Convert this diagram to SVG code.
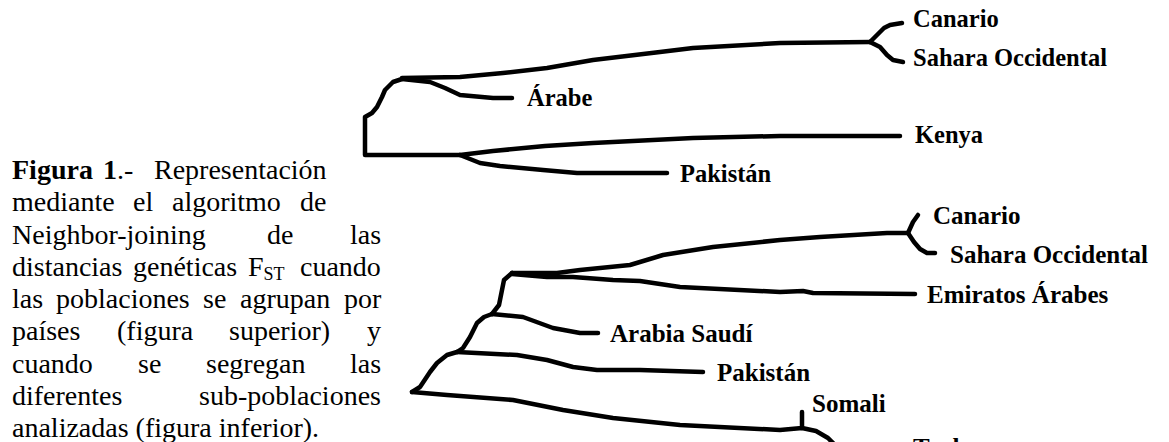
<svg xmlns="http://www.w3.org/2000/svg" width="1169" height="442" viewBox="0 0 1169 442">
<style>
.cap{font-family:"Liberation Serif","Times New Roman",serif;font-size:28px;fill:#000}
.b{font-weight:bold}
.lbl{font-family:"Liberation Serif","Times New Roman",serif;font-size:25px;font-weight:bold;fill:#000}
.lbl2{font-size:24.5px}
.br{fill:none;stroke:#000;stroke-width:4.5;stroke-linecap:round;stroke-linejoin:round}
</style>
<rect width="1169" height="442" fill="#fff"/>
<g id="caption" class="cap">
<text y="179"><tspan x="12" class="b">Figura</tspan><tspan x="103" class="b">1</tspan><tspan>.-</tspan><tspan x="154">Representación</tspan></text>
<text y="211"><tspan x="12">mediante</tspan><tspan x="133">el</tspan><tspan x="172">algoritmo</tspan><tspan x="300">de</tspan></text>
<text y="244"><tspan x="12">Neighbor-joining</tspan><tspan x="267">de</tspan><tspan x="350">las</tspan></text>
<text y="276"><tspan x="12">distancias</tspan><tspan x="133">genéticas</tspan><tspan x="248">F</tspan><tspan font-size="18" dy="4">ST</tspan><tspan x="300" dy="-4">cuando</tspan></text>
<text y="308"><tspan x="12">las</tspan><tspan x="56">poblaciones</tspan><tspan x="203">se</tspan><tspan x="240">agrupan</tspan><tspan x="344">por</tspan></text>
<text y="340"><tspan x="12">países</tspan><tspan x="117">(figura</tspan><tspan x="229">superior)</tspan><tspan x="367">y</tspan></text>
<text y="373"><tspan x="12">cuando</tspan><tspan x="138">se</tspan><tspan x="206">segregan</tspan><tspan x="350">las</tspan></text>
<text y="405"><tspan x="12">diferentes</tspan><tspan x="199">sub-poblaciones</tspan></text>
<text y="437" x="12">analizadas (figura inferior).</text>
</g>
<g id="connectors" class="br">
<!-- top tree -->
<path d="M402,79 L393,82 L385,90 L382,97 L377,107 L372,113 L365,117 L365,155 L460,155"/>
<path d="M460,155 L493,151 L545,146 L593,143 L693,138 L780,136 L853,136 L900,136"/>
<path d="M460,155 L480,163 L500,166 L543,170 L577,173 L667,173"/>
<path d="M402,79 L430,82 L445,88 L460,95 L493,98 L512,98"/>
<path d="M402,78 L460,77 L503,73 L547,68 L593,60 L660,52 L693,48 L780,43 L870,42"/>
<path d="M870,42 L877,35 L884,28 L890,25 L902,23"/>
<path d="M870,42 L880,47 L887,55 L893,60 L903,62"/>
<!-- bottom tree -->
<path d="M412,392 L447,395 L513,400 L563,410 L613,418 L680,425 L780,430 L802,428 L816,431 L828,438 L840,450"/>
<path d="M802,428 L802,412"/>
<path d="M412,392 L420,387 L430,372 L437,363 L447,355 L457,352"/>
<path d="M457,352 L517,355 L547,360 L573,367 L597,370 L640,370 L703,372"/>
<path d="M457,352 L463,348 L470,337 L477,323 L484,317 L492,314"/>
<path d="M492,314 L523,317 L553,328 L580,333 L598,333"/>
<path d="M492,314 L499,305 L502,290 L504,280 L512,273"/>
<path d="M512,274 L547,277 L573,277 L613,280 L640,281 L680,287 L780,292 L803,291 L813,293 L915,294"/>
<path d="M512,273 L557,273 L580,270 L630,265 L663,255 L713,247 L780,240 L820,237 L887,233 L908,233"/>
<path d="M908,233 L913,222 L918,215"/>
<path d="M908,233 L914,242 L920,249 L927,253 L935,253"/>
</g>
<g id="n-canario1"><text class="lbl lbl2" x="913" y="27">Canario</text></g>
<g id="n-sahara1"><text class="lbl lbl2" x="913" y="66">Sahara Occidental</text></g>
<g id="n-arabe"><text class="lbl lbl2" x="527" y="106">Árabe</text></g>
<g id="n-kenya"><text class="lbl lbl2" x="915" y="143">Kenya</text></g>
<g id="n-pakistan1"><text class="lbl lbl2" x="680" y="182">Pakistán</text></g>
<g id="n-canario2"><text class="lbl" x="933" y="224">Canario</text></g>
<g id="n-sahara2"><text class="lbl" x="950" y="263">Sahara Occidental</text></g>
<g id="n-emiratos"><text class="lbl" x="927" y="303">Emiratos Árabes</text></g>
<g id="n-arabia"><text class="lbl" x="610" y="342">Arabia Saudí</text></g>
<g id="n-pakistan2"><text class="lbl" x="717" y="381">Pakistán</text></g>
<g id="n-somali"><text class="lbl" x="812" y="412">Somali</text></g>
<g id="n-turkana"><text class="lbl" x="913" y="456">Turkana</text></g>
</svg>
